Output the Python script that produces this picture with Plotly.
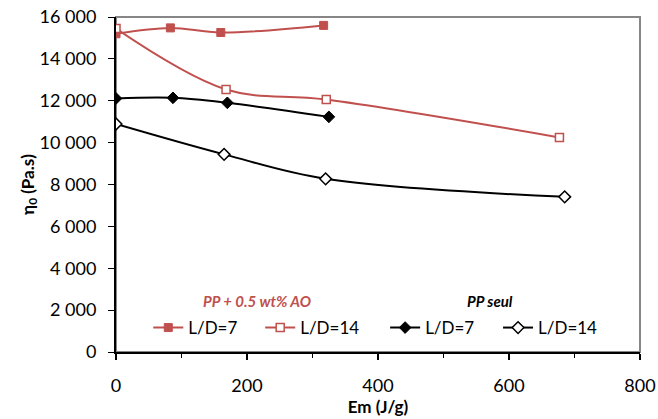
import plotly.graph_objects as go

# Data (Em in J/g, eta0 in Pa.s)
em_ao_7 = [0, 83, 160, 317]
eta_ao_7 = [15200, 15480, 15260, 15600]
em_ao_14 = [0, 168, 321, 677]
eta_ao_14 = [15450, 12540, 12060, 10250]
em_pp_7 = [0, 87, 170, 325]
eta_pp_7 = [12110, 12140, 11900, 11230]
em_pp_14 = [0, 165, 320, 685]
eta_pp_14 = [10890, 9440, 8270, 7410]

series_names = ["L/D=7", "L/D=14", "L/D=7", "L/D=14"]
group_labels = ["PP + 0.5 wt% AO", "PP seul"]

RED = "#C0504D"
FONT = "Lato"

fig = go.Figure()

fig.add_trace(go.Scatter(
    x=em_ao_7, y=eta_ao_7, name=series_names[0], mode="lines+markers",
    line=dict(color=RED, width=2, shape="spline"),
    marker=dict(symbol="square", size=8, color=RED, line=dict(color=RED, width=1)),
    legend="legend", showlegend=True))
fig.add_trace(go.Scatter(
    x=em_ao_14, y=eta_ao_14, name=series_names[1], mode="lines+markers",
    line=dict(color=RED, width=2, shape="spline"),
    marker=dict(symbol="square", size=8, color="white", line=dict(color=RED, width=1.5)),
    legend="legend2", showlegend=True))
fig.add_trace(go.Scatter(
    x=em_pp_7, y=eta_pp_7, name=series_names[2], mode="lines+markers",
    line=dict(color="black", width=2, shape="spline"),
    marker=dict(symbol="diamond", size=9, color="black", line=dict(color="black", width=1)),
    legend="legend3", showlegend=True))
fig.add_trace(go.Scatter(
    x=em_pp_14, y=eta_pp_14, name=series_names[3], mode="lines+markers",
    line=dict(color="black", width=2, shape="spline"),
    marker=dict(symbol="diamond", size=9, color="white", line=dict(color="black", width=1.5)),
    legend="legend4", showlegend=True))

leg_common = dict(orientation="h", yanchor="middle", xanchor="left", y=0.0716,
                  bgcolor="rgba(0,0,0,0)", borderwidth=0,
                  font=dict(family=FONT, size=17, color="black"))
fig.update_layout(
    showlegend=True,
    legend=dict(x=0.0616, **leg_common),
    legend2=dict(x=0.2752, **leg_common),
    legend3=dict(x=0.5136, **leg_common),
    legend4=dict(x=0.7291, **leg_common),
)

fig.add_annotation(text="<b><i>" + group_labels[0] + "</i></b>", xref="paper", yref="paper",
                   x=0.2689, y=0.1537, showarrow=False, xanchor="center", yanchor="middle",
                   font=dict(family=FONT, size=15, color=RED))
fig.add_annotation(text="<b><i>" + group_labels[1] + "</i></b>", xref="paper", yref="paper",
                   x=0.7139, y=0.1537, showarrow=False, xanchor="center", yanchor="middle",
                   font=dict(family=FONT, size=15, color="black"))

# gray frame (top/right)
fig.add_shape(type="rect", xref="paper", yref="paper", x0=0, x1=1, y0=0, y1=1,
              line=dict(color="#868686", width=2), layer="below")

fig.update_xaxes(
    range=[0, 800], dtick=200, tick0=0, showgrid=False, zeroline=False,
    showline=True, linecolor="black", linewidth=2, automargin=False,
    ticks="outside", ticklen=6, tickcolor="black", tickwidth=2,
    minor=dict(ticks="outside", ticklen=4, dtick=100, tickcolor="black", tickwidth=1, showgrid=False),
    tickfont=dict(family=FONT, size=18, color="black"),
    ticklabelstandoff=10, ticklabeloverflow="allow",
    title=dict(text="<b>Em (J/g)</b>", font=dict(family=FONT, size=17, color="black"), standoff=3),
)
fig.update_yaxes(
    range=[0, 16000], dtick=2000, tick0=0, showgrid=False, zeroline=False,
    showline=True, linecolor="black", linewidth=2, automargin=False,
    ticks="outside", ticklen=6, tickcolor="black", tickwidth=1,
    tickformat=",d",
    tickfont=dict(family=FONT, size=18, color="black"),
    ticklabelstandoff=8, ticklabeloverflow="allow",
    title=dict(text="<b>η<sub>0</sub> (Pa.s)</b>", font=dict(family=FONT, size=17, color="black"), standoff=1),
)

fig.update_layout(
    width=658, height=419, autosize=False,
    margin=dict(l=116, r=18, t=17, b=67),
    plot_bgcolor="white", paper_bgcolor="white",
    separators=". ",
    font=dict(family=FONT, color="black"),
)

# remove the default page body margin so the figure fills the window exactly
fig.write_html("out.html", config={"displayModeBar": False},
               post_script="document.body.style.margin='0';")
